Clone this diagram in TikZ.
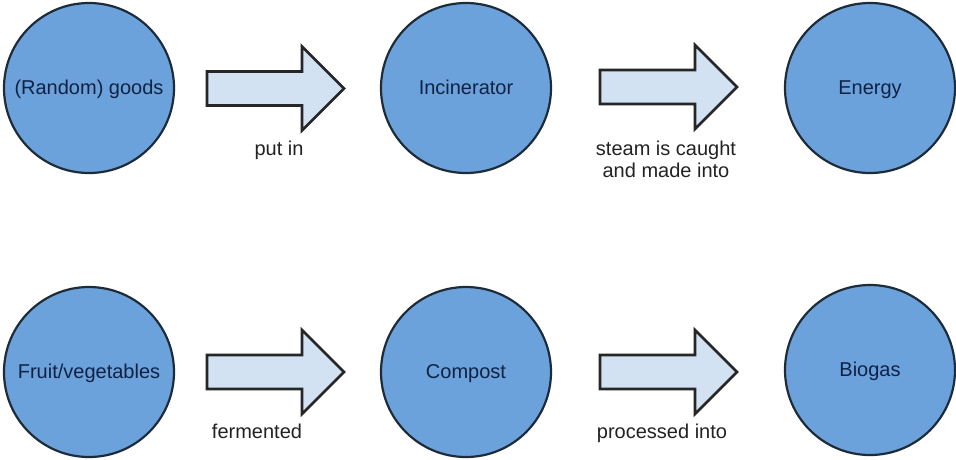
\documentclass[tikz,border=0pt]{standalone}
\usepackage{fontspec}
\setmainfont{Liberation Sans}
\definecolor{circfill}{HTML}{6CA2DC}
\definecolor{circline}{HTML}{1E2B38}
\definecolor{circtext}{HTML}{0F2244}
\definecolor{arrfill}{HTML}{D3E2F3}
\definecolor{arrline}{HTML}{262626}
\definecolor{labtext}{HTML}{222222}
\begin{document}
\begin{tikzpicture}[x=1pt,y=-1pt,
  bubble/.style={circle,draw=circline,line width=2.2pt,fill=circfill,minimum size=170pt,inner sep=0pt,
    text height=14pt,text depth=2pt,
    text=circtext,font=\fontsize{20}{22}\selectfont},
  arrowbox/.style={draw=arrline,line width=2.6pt,fill=arrfill,line join=miter},
  lab/.style={text=labtext,font=\fontsize{20}{22}\selectfont,align=center,inner sep=0pt,anchor=base},
  blockarr/.pic={\path[arrowbox] (0,-17) -- (95,-17) -- (95,-42) -- (137,0) -- (95,42) -- (95,17) -- (0,17) -- cycle;}
]
\useasboundingbox (0,0) rectangle (956,459);
% top row
\node[bubble] (goods) at (89,88) {(Random) goods};
\node[bubble] (incin) at (466,88) {Incinerator};
\node[bubble] (energy) at (870,88) {Energy};
\pic at (207,88.5) {blockarr};
\pic at (600,87) {blockarr};
\node[lab] (l1) at (279,155) {put in};
\node[lab] (l2) at (666,177) {steam is caught\\and made into};
% bottom row
\node[bubble] (fruit) at (89,372) {Fruit/vegetables};
\node[bubble] (compost) at (466,372) {Compost};
\node[bubble] (biogas) at (870,370) {Biogas};
\pic at (207,372) {blockarr};
\pic at (600,372) {blockarr};
\node[lab] (l3) at (257,438) {fermented};
\node[lab] (l4) at (662,438) {processed into};
\end{tikzpicture}
\end{document}
